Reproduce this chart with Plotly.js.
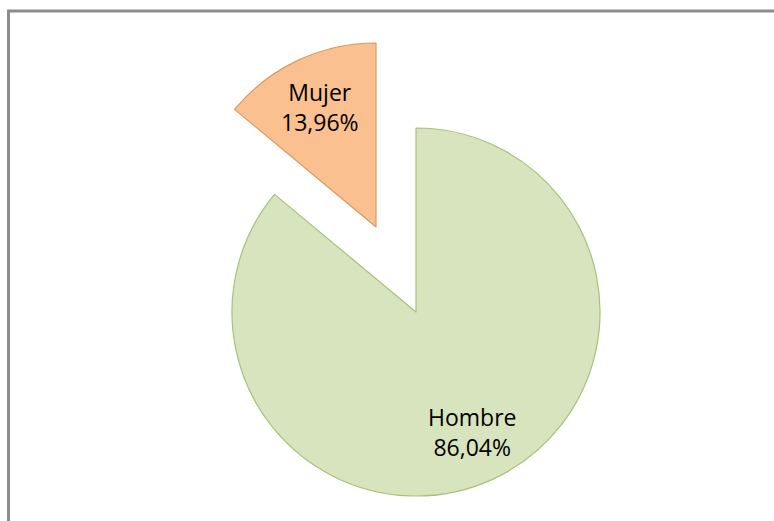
<!DOCTYPE html>
<html>
<head>
<meta charset="utf-8">
<script src="https://cdn.plot.ly/plotly-3.0.1.min.js"></script>
<style>html,body{margin:0;padding:0;background:#fff;}#chart{width:774px;height:521px;}</style>
</head>
<body>
<div id="chart"></div>
<script>
var labels = ["Hombre", "Mujer"];
var values = [86.04, 13.96];
var valueText = ["86,04%", "13,96%"];
var colors = ["#d7e4bd", "#fac090"];
var edgeColors = ["#a9c07a", "#d99a5e"];

var W = 774, H = 521, R = 184;
var centers = [[416, 312], [376, 227]];
function dom(cx, cy) {
  return {
    x: [(cx - R) / W, (cx + R) / W],
    y: [(H - (cy + R)) / H, (H - (cy - R)) / H]
  };
}

function pieTrace(showIdx) {
  var c = centers[showIdx];
  return {
    type: "pie",
    labels: labels,
    values: values,
    sort: false,
    direction: "clockwise",
    rotation: 0,
    domain: dom(c[0], c[1]),
    marker: {
      colors: colors.map(function (col, i) { return i === showIdx ? col : "rgba(0,0,0,0)"; }),
      line: { color: edgeColors.map(function (col, i) { return i === showIdx ? col : "rgba(0,0,0,0)"; }), width: 1.2 }
    },
    textinfo: "none",
    hoverinfo: "skip",
    showlegend: false
  };
}

var data = [pieTrace(0), pieTrace(1)];

// label positions along each slice's bisector, derived from the values
var total = values.reduce(function (a, b) { return a + b; }, 0);
var annotations = [];
var cum = 0;
values.forEach(function (v, i) {
  var mid = (cum + v / 2) / total * 2 * Math.PI;
  cum += v;
  var c = centers[i];
  var px = c[0] + 0.72 * R * Math.sin(mid);
  var py = c[1] - 0.72 * R * Math.cos(mid);
  annotations.push({
    xref: "paper", yref: "paper",
    x: px / W, y: 1 - py / H,
    xanchor: "center", yanchor: "middle",
    showarrow: false,
    text: labels[i] + "<br>" + valueText[i],
    font: { family: "Open Sans, sans-serif", size: 23, color: "#000" }
  });
});

var layout = {
  width: W, height: H,
  margin: { l: 0, r: 0, t: 0, b: 0 },
  paper_bgcolor: "#ffffff",
  showlegend: false,
  annotations: annotations,
  shapes: [{
    type: "rect", xref: "paper", yref: "paper",
    x0: 8.5 / W, x1: 1.05, y0: -0.05, y1: (H - 11) / H,
    line: { color: "#8c8c8c", width: 3 }
  }]
};

Plotly.newPlot("chart", data, layout, { staticPlot: true });
</script>
</body>
</html>
